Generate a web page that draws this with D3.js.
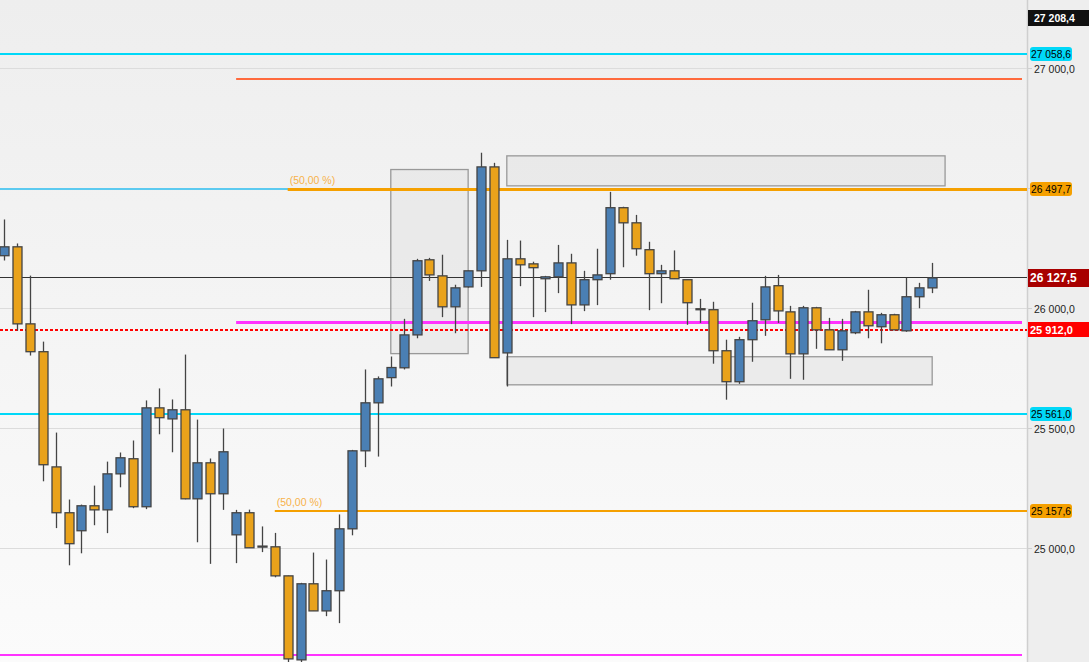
<!DOCTYPE html>
<html><head><meta charset="utf-8">
<script src="https://cdn.jsdelivr.net/npm/d3@7"></script>
<style>html,body{margin:0;padding:0;background:#fff;}svg{display:block;font-family:"Liberation Sans",Arial,sans-serif;}</style>
</head><body><svg id="c" width="1089" height="662"></svg>
<script>
// ---- data ----
const opens  = [26220,26257,25936,25820,25340,25149,25074,25178,25161,25311,25374,25174,25586,25540,25578,25207,25357,25228,25057,25149,25010,25007,24886,24536,24853,24740,24824,25082,25407,25607,25712,25753,25890,26203,26136,26007,26090,26157,26590,25815,26207,26186,26124,26132,26190,26015,26120,26145,26420,26357,26245,26145,26157,26120,25999,25995,25824,25695,25870,25953,26095,25986,25811,26003,25911,25828,25899,25986,25924,25974,25907,26049,26086];
const highs  = [26371,26271,26137,25862,25483,25204,25183,25262,25362,25400,25450,25617,25667,25621,25808,25537,25375,25500,25161,25162,25092,25065,24887,24857,24983,24954,25142,25411,25746,25717,25800,25957,26207,26211,26224,26099,26158,26649,26607,26286,26283,26195,26136,26265,26228,26157,26249,26486,26424,26390,26278,26182,26242,26121,26040,26028,25870,25882,26024,26136,26140,26011,26011,26007,25961,25957,25990,26078,25982,25978,26128,26107,26190];
const lows   = [26200,25908,25804,25280,25085,24930,24980,25097,25064,25255,25168,25164,25476,25401,25205,25026,24936,25161,24939,25003,24985,24880,24526,24526,24740,24718,24689,25055,25339,25383,25675,25746,25876,26115,25964,25897,26087,26090,25795,25675,26093,25964,25985,26064,25935,25989,26014,26120,26172,26220,25993,26022,26124,25932,25940,25770,25620,25686,25778,25886,25940,25707,25703,25832,25828,25782,25893,25876,25855,25910,25903,26001,26064];
const closes = [26257,25936,25820,25349,25149,25020,25178,25161,25311,25378,25174,25586,25545,25578,25207,25357,25228,25403,25149,25003,25010,24886,24540,24853,24740,24824,25082,25407,25607,25707,25754,25890,26199,26140,26007,26086,26157,26590,25795,26207,26182,26170,26132,26190,26015,26120,26140,26420,26357,26249,26145,26157,26124,26024,25995,25824,25695,25870,25949,26090,25990,25811,26003,25911,25828,25907,25986,25928,25974,25911,26049,26086,26127.5];
const barIndex = d3.range(opens.length + 1); // one empty slot for the projection to the right

// horizontal level lines
const levelValues = [27058.6, 26958, 26497.7, 26497.7, 26127.5, 25941.7, 25912.0, 25561.0, 25157.6, 24558];
const levelStarts = [null, 18, null, 22, null, 18, null, null, 21, null];
const levelColors = ["#00d8f8", "#ff6a3d", "#5ccaf0", "#f5a000", "#333333", "#ff33ff", "#ff0000", "#00d8f8", "#f5a000", "#ff33ff"];
const levelWidths = [2, 2, 2, 3, 1, 3, 2, 2, 2, 2];
const levelDashes = [null, null, null, null, null, null, "3,2", null, null, null];
const levelEnds   = [1027, 1022, 1023, 1027, 1027, 1022, 1027, 1027, 1027, 1022];

// percent labels on fib levels
const pctLabels = ["(50,00 %)", "(50,00 %)"];
const pctValues = [26497.7, 25157.6];
const pctStarts = [22, 21];

// zones
const zoneStart = [30, 39, 39];
const zoneEnd   = [36, 73, 72];
const zoneTop   = [26579, 26636, 25799];
const zoneBot   = [25812, 26511, 25682];

// axis
const gridTicks = [27000, 26500, 26000, 25500, 25000];
const axisLabels = ["27 000,0", "26 500,0", "26 000,0", "25 500,0", "25 000,0"];
const axisShown  = [true, false, true, true, true];

// price tags on axis
const tagValues = [27208.4, 27058.6, 26497.7, 26127.5, 25912.0, 25561.0, 25157.6];
const tagTexts  = ["27 208,4", "27 058,6", "26 497,7", "26 127,5", "25 912,0", "25 561,0", "25 157,6"];
const tagBgs    = ["#111111", "#00d8f8", "#f5a000", "#a80000", "#ff0000", "#00d8f8", "#f5a000"];
const tagFgs    = ["#ffffff", "#000000", "#000000", "#ffffff", "#ffffff", "#000000", "#000000"];
const tagFull   = [true, false, false, true, true, false, false];

// ---- drawing ----
const W = 1089, H = 662, plotR = 1027;
const svg = d3.select("#c");
const y = d3.scaleLinear().domain([25000, 27000]).range([548.5, 68.5]);
const step = 12.89;
const x = d3.scaleBand().domain(barIndex).range([4.1 - step/2, 4.1 - step/2 + step*barIndex.length]).paddingInner(0).paddingOuter(0);
const cx = i => x(i) + x.bandwidth()/2;
const snap = (v, w) => (w % 2 === 1) ? Math.floor(y(v)) + 0.5 : Math.round(y(v));

const defs = svg.append("defs");
const g1 = defs.append("linearGradient").attr("id","bg").attr("x1",0).attr("y1",0).attr("x2",0).attr("y2",1);
g1.append("stop").attr("offset","0%").attr("stop-color","#eeeeee");
g1.append("stop").attr("offset","100%").attr("stop-color","#fbfbfb");
defs.append("clipPath").attr("id","plot").append("rect").attr("x",0).attr("y",0).attr("width",plotR).attr("height",H);

svg.append("rect").attr("width",plotR).attr("height",H).attr("fill","url(#bg)");
svg.append("rect").attr("x",plotR).attr("width",W-plotR).attr("height",H).attr("fill","#eeeeee");
svg.append("line").attr("x1",plotR+0.5).attr("x2",plotR+0.5).attr("y1",0).attr("y2",H).attr("stroke","#cfcfcf").attr("stroke-width",1.5);

const plot = svg.append("g").attr("clip-path","url(#plot)");

// grid
plot.selectAll(".grid").data(gridTicks).join("line")
  .attr("x1",0).attr("x2",plotR).attr("y1",d=>Math.floor(y(d))+0.5).attr("y2",d=>Math.floor(y(d))+0.5)
  .attr("stroke","#dcdcdc").attr("stroke-width",1);
svg.selectAll(".tick").data(gridTicks).join("line")
  .attr("x1",plotR).attr("x2",plotR+5).attr("y1",d=>Math.floor(y(d))+0.5).attr("y2",d=>Math.floor(y(d))+0.5)
  .attr("stroke","#cfcfcf");

// zones
zoneStart.forEach((s,k)=>{
  plot.append("rect").attr("x",cx(s)).attr("y",y(zoneTop[k]))
    .attr("width",cx(zoneEnd[k])-cx(s)).attr("height",y(zoneBot[k])-y(zoneTop[k]))
    .attr("fill","#e4e4e4").attr("fill-opacity",0.6).attr("stroke","#999").attr("stroke-width",1.3);
});

// level lines
levelValues.forEach((v,k)=>{
  const x1 = levelStarts[k]===null ? 0 : cx(levelStarts[k]);
  const yy = snap(v, levelWidths[k]);
  const ln = plot.append("line").attr("x1",x1).attr("x2",levelEnds[k])
    .attr("y1",yy).attr("y2",yy).attr("stroke",levelColors[k]).attr("stroke-width",levelWidths[k]);
  if(levelDashes[k]) ln.attr("stroke-dasharray",levelDashes[k]);
});
pctLabels.forEach((t,k)=>{
  plot.append("text").attr("x",cx(pctStarts[k])+2).attr("y",y(pctValues[k])-5)
    .attr("font-size",10.5).attr("fill","#f7b24a").text(t);
});

// candles
const idx = d3.range(opens.length);
const bw = 9;
const cg = plot.append("g");
cg.selectAll(".wick").data(idx).join("line")
  .attr("x1",i=>Math.round(cx(i))+0.5).attr("x2",i=>Math.round(cx(i))+0.5)
  .attr("y1",i=>y(highs[i])).attr("y2",i=>y(lows[i]))
  .attr("stroke","#444").attr("stroke-width",1.3);
cg.selectAll(".body").data(idx).join("rect")
  .attr("x",i=>Math.round(cx(i))+0.5-bw/2)
  .attr("y",i=>y(Math.max(opens[i],closes[i])))
  .attr("width",bw)
  .attr("height",i=>Math.max(1, Math.abs(y(opens[i])-y(closes[i]))))
  .attr("fill",i=>closes[i]>=opens[i] ? "#4a7fb4" : "#e9a21b")
  .attr("stroke","#444").attr("stroke-width",1.3);

// axis labels
gridTicks.forEach((v,k)=>{
  if(!axisShown[k]) return;
  svg.append("text").attr("x",1034).attr("y",y(v)+4).attr("font-size",10.5).attr("fill","#222").text(axisLabels[k]);
});

// tags
tagValues.forEach((v,k)=>{
  const yy = y(v);
  if(tagFull[k]){
    const h = k===0 ? 16 : (k===3 ? 18 : 15);
    svg.append("rect").attr("x",1028).attr("y",Math.round(yy-h/2)).attr("width",W-1028).attr("height",h).attr("fill",tagBgs[k]);
    svg.append("text").attr("x",k===0?1034:1030).attr("y",yy+4).attr("font-size",k===3?12:(k===0?10.5:11))
      .attr("font-weight","bold").attr("fill",tagFgs[k]).text(tagTexts[k]);
  } else {
    svg.append("rect").attr("x",1030).attr("y",Math.round(yy-7)).attr("width",42).attr("height",14).attr("rx",3)
      .attr("fill",tagBgs[k]);
    svg.append("text").attr("x",1031).attr("y",yy+4).attr("font-size",10.5).attr("fill",tagFgs[k])
      .attr("textLength",40).attr("lengthAdjust","spacingAndGlyphs").text(tagTexts[k]);
  }
});
</script></body></html>
